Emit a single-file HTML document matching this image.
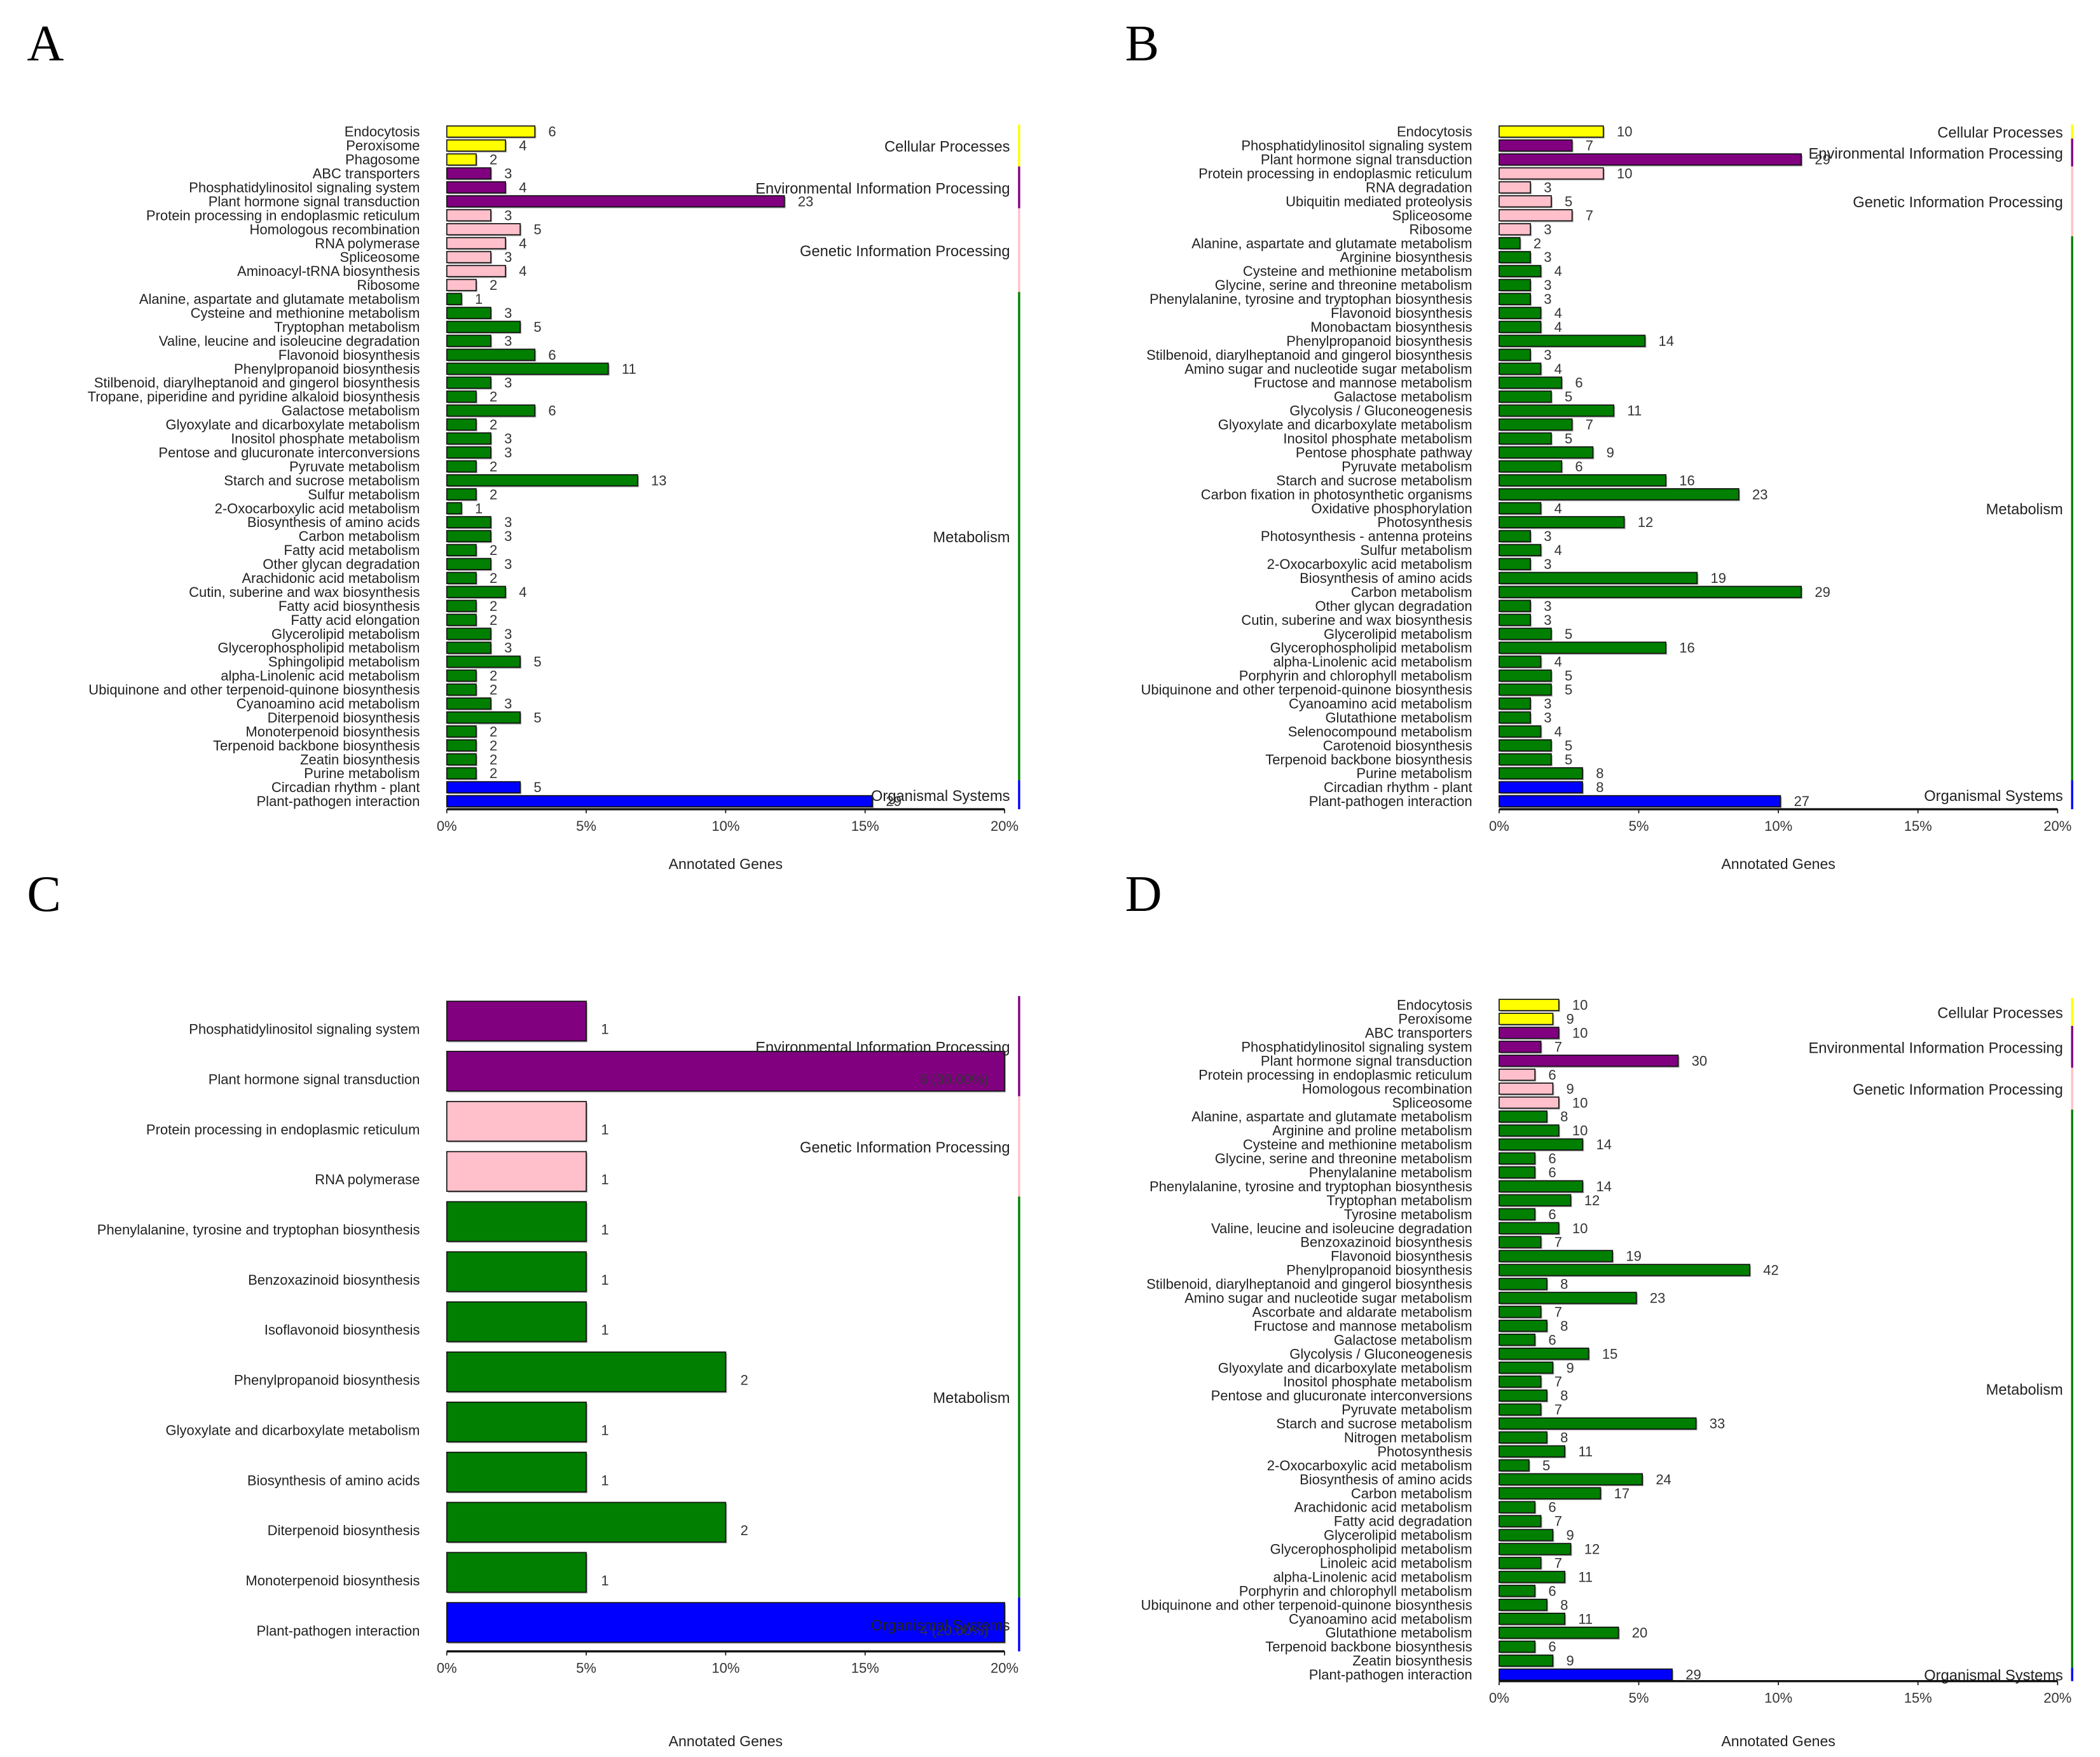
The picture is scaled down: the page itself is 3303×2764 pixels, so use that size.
<!DOCTYPE html>
<html><head><meta charset="utf-8">
<style>
html,body{margin:0;padding:0;background:#fff;}
svg{display:block;}
text{font-family:"Liberation Sans",sans-serif;}
</style></head>
<body>
<svg id="fig" width="3303" height="2764" viewBox="0 0 1560.5 1306" preserveAspectRatio="none" xmlns="http://www.w3.org/2000/svg">
<rect x="0" y="0" width="1560.5" height="1306" fill="#fff"/>
<text x="20" y="45" font-size="38" style="font-family:'Liberation Serif',serif">A</text>
<text x="836" y="45" font-size="38" style="font-family:'Liberation Serif',serif">B</text>
<text x="20" y="677" font-size="38" style="font-family:'Liberation Serif',serif">C</text>
<text x="836" y="677" font-size="38" style="font-family:'Liberation Serif',serif">D</text>
</svg>
<script>
const groupNames = ['Cellular Processes','Environmental Information Processing','Genetic Information Processing','Metabolism','Organismal Systems'];
const groupColors = ['#ffff00','#800080','#ffc0cb','#007f00','#0000ff'];
const ticks = [0,5,10,15,20];
const tickLabels = ['0%','5%','10%','15%','20%'];

const aCats = ['Endocytosis','Peroxisome','Phagosome','ABC transporters','Phosphatidylinositol signaling system','Plant hormone signal transduction','Protein processing in endoplasmic reticulum','Homologous recombination','RNA polymerase','Spliceosome','Aminoacyl-tRNA biosynthesis','Ribosome','Alanine, aspartate and glutamate metabolism','Cysteine and methionine metabolism','Tryptophan metabolism','Valine, leucine and isoleucine degradation','Flavonoid biosynthesis','Phenylpropanoid biosynthesis','Stilbenoid, diarylheptanoid and gingerol biosynthesis','Tropane, piperidine and pyridine alkaloid biosynthesis','Galactose metabolism','Glyoxylate and dicarboxylate metabolism','Inositol phosphate metabolism','Pentose and glucuronate interconversions','Pyruvate metabolism','Starch and sucrose metabolism','Sulfur metabolism','2-Oxocarboxylic acid metabolism','Biosynthesis of amino acids','Carbon metabolism','Fatty acid metabolism','Other glycan degradation','Arachidonic acid metabolism','Cutin, suberine and wax biosynthesis','Fatty acid biosynthesis','Fatty acid elongation','Glycerolipid metabolism','Glycerophospholipid metabolism','Sphingolipid metabolism','alpha-Linolenic acid metabolism','Ubiquinone and other terpenoid-quinone biosynthesis','Cyanoamino acid metabolism','Diterpenoid biosynthesis','Monoterpenoid biosynthesis','Terpenoid backbone biosynthesis','Zeatin biosynthesis','Purine metabolism','Circadian rhythm - plant','Plant-pathogen interaction'];
const aValues = [6,4,2,3,4,23,3,5,4,3,4,2,1,3,5,3,6,11,3,2,6,2,3,3,2,13,2,1,3,3,2,3,2,4,2,2,3,3,5,2,2,3,5,2,2,2,2,5,29];
const aGroupCounts = [3,3,6,35,2];
const aTotal = 190;

const bCats = ['Endocytosis','Phosphatidylinositol signaling system','Plant hormone signal transduction','Protein processing in endoplasmic reticulum','RNA degradation','Ubiquitin mediated proteolysis','Spliceosome','Ribosome','Alanine, aspartate and glutamate metabolism','Arginine biosynthesis','Cysteine and methionine metabolism','Glycine, serine and threonine metabolism','Phenylalanine, tyrosine and tryptophan biosynthesis','Flavonoid biosynthesis','Monobactam biosynthesis','Phenylpropanoid biosynthesis','Stilbenoid, diarylheptanoid and gingerol biosynthesis','Amino sugar and nucleotide sugar metabolism','Fructose and mannose metabolism','Galactose metabolism','Glycolysis / Gluconeogenesis','Glyoxylate and dicarboxylate metabolism','Inositol phosphate metabolism','Pentose phosphate pathway','Pyruvate metabolism','Starch and sucrose metabolism','Carbon fixation in photosynthetic organisms','Oxidative phosphorylation','Photosynthesis','Photosynthesis - antenna proteins','Sulfur metabolism','2-Oxocarboxylic acid metabolism','Biosynthesis of amino acids','Carbon metabolism','Other glycan degradation','Cutin, suberine and wax biosynthesis','Glycerolipid metabolism','Glycerophospholipid metabolism','alpha-Linolenic acid metabolism','Porphyrin and chlorophyll metabolism','Ubiquinone and other terpenoid-quinone biosynthesis','Cyanoamino acid metabolism','Glutathione metabolism','Selenocompound metabolism','Carotenoid biosynthesis','Terpenoid backbone biosynthesis','Purine metabolism','Circadian rhythm - plant','Plant-pathogen interaction'];
const bValues = [10,7,29,10,3,5,7,3,2,3,4,3,3,4,4,14,3,4,6,5,11,7,5,9,6,16,23,4,12,3,4,3,19,29,3,3,5,16,4,5,5,3,3,4,5,5,8,8,27];
const bGroupCounts = [1,2,5,39,2];
const bTotal = 268;

const cCats = ['Phosphatidylinositol signaling system','Plant hormone signal transduction','Protein processing in endoplasmic reticulum','RNA polymerase','Phenylalanine, tyrosine and tryptophan biosynthesis','Benzoxazinoid biosynthesis','Isoflavonoid biosynthesis','Phenylpropanoid biosynthesis','Glyoxylate and dicarboxylate metabolism','Biosynthesis of amino acids','Diterpenoid biosynthesis','Monoterpenoid biosynthesis','Plant-pathogen interaction'];
const cValues = [1,6,1,1,1,1,1,2,1,1,2,1,4];
const cGroupCounts = [0,2,2,8,1];
const cTotal = 20;

const dCats = ['Endocytosis','Peroxisome','ABC transporters','Phosphatidylinositol signaling system','Plant hormone signal transduction','Protein processing in endoplasmic reticulum','Homologous recombination','Spliceosome','Alanine, aspartate and glutamate metabolism','Arginine and proline metabolism','Cysteine and methionine metabolism','Glycine, serine and threonine metabolism','Phenylalanine metabolism','Phenylalanine, tyrosine and tryptophan biosynthesis','Tryptophan metabolism','Tyrosine metabolism','Valine, leucine and isoleucine degradation','Benzoxazinoid biosynthesis','Flavonoid biosynthesis','Phenylpropanoid biosynthesis','Stilbenoid, diarylheptanoid and gingerol biosynthesis','Amino sugar and nucleotide sugar metabolism','Ascorbate and aldarate metabolism','Fructose and mannose metabolism','Galactose metabolism','Glycolysis / Gluconeogenesis','Glyoxylate and dicarboxylate metabolism','Inositol phosphate metabolism','Pentose and glucuronate interconversions','Pyruvate metabolism','Starch and sucrose metabolism','Nitrogen metabolism','Photosynthesis','2-Oxocarboxylic acid metabolism','Biosynthesis of amino acids','Carbon metabolism','Arachidonic acid metabolism','Fatty acid degradation','Glycerolipid metabolism','Glycerophospholipid metabolism','Linoleic acid metabolism','alpha-Linolenic acid metabolism','Porphyrin and chlorophyll metabolism','Ubiquinone and other terpenoid-quinone biosynthesis','Cyanoamino acid metabolism','Glutathione metabolism','Terpenoid backbone biosynthesis','Zeatin biosynthesis','Plant-pathogen interaction'];
const dValues = [10,9,10,7,30,6,9,10,8,10,14,6,6,14,12,6,10,7,19,42,8,23,7,8,6,15,9,7,8,7,33,8,11,5,24,17,6,7,9,12,7,11,6,8,11,20,6,9,29];
const dGroupCounts = [2,3,3,40,1];
const dTotal = 468;

const NS = 'http://www.w3.org/2000/svg';
const svg = document.getElementById('fig');
function mk(tag, attrs, parent){
  const e = document.createElementNS(NS, tag);
  for (const k in attrs) e.setAttribute(k, attrs[k]);
  (parent||svg).appendChild(e);
  return e;
}

function drawPanel(id, cats, values, groupCounts, total, L){
  const g = mk('g', {});
  
  
  const xs = p => L.x0 + (Math.min(p, 20) / 20) * (L.x1 - L.x0);
  const ys = i => L.yFirst + i * L.step;
  const rowGroup = [];
  groupCounts.forEach((c, gi) => { for (let k = 0; k < c; k++) rowGroup.push(gi); });
  cats.forEach((name, i) => {
    const pct = values[i] / total * 100;
    const yc = ys(i);
    const w = xs(pct) - L.x0;
    const sh = mk('rect', {x: L.x0 + 1, y: yc - L.barH/2 + 1, width: w, height: L.barH, fill: '#b0b0b0'}, g);
    
    
    const r = mk('rect', {x: L.x0, y: yc - L.barH/2, width: w, height: L.barH, fill: groupColors[rowGroup[i]], stroke: '#111', 'stroke-width': 0.8}, g);
    
    
    const lab = mk('text', {x: L.x0 - 20, y: yc + L.fs*0.35 + L.labOff, 'text-anchor': 'end', 'font-size': L.fs, fill: '#222'}, g);
    lab.textContent = name;
    
    
    const v = mk('text', {'font-size': L.fs, fill: '#333'}, g);
    if (pct >= 20) {
      v.setAttribute('x', L.x1 - 12);
      v.setAttribute('y', yc + L.fs*0.35 + L.barH*0.2);
      v.setAttribute('text-anchor', 'end');
      v.textContent = values[i] + ' (' + pct.toFixed(2) + '%)';
    } else {
      v.setAttribute('x', xs(pct) + L.vgap);
      v.setAttribute('y', yc + L.fs*0.35 + L.labOff);
      v.textContent = values[i];
    }
    
    
  });
  let start = 0;
  groupCounts.forEach((c, gi) => {
    if (c === 0) return;
    const top = ys(start) - L.step/2;
    let bot = ys(start + c - 1) + L.step/2;
    if (start + c === cats.length) bot = L.axisY;
    const s = mk('rect', {x: L.x1 + 10, y: top, width: 1.6, height: bot - top, fill: groupColors[gi]}, g);
    
    
    const t = mk('text', {x: L.x1 + 4, y: (top + bot)/2 + 4.5, 'text-anchor': 'end', 'font-size': L.gfs, fill: '#222'}, g);
    t.textContent = groupNames[gi];
    
    
    start += c;
  });
  const ax = mk('line', {x1: L.x0, x2: L.x1, y1: L.axisY, y2: L.axisY, stroke: '#111', 'stroke-width': 1.6}, g);
  
  
  ticks.forEach((tv, k) => {
    const tl = mk('line', {x1: xs(tv), x2: xs(tv), y1: L.axisY, y2: L.axisY + 3, stroke: '#111', 'stroke-width': 0.8}, g);
    
    
    const tt = mk('text', {x: xs(tv), y: L.axisY + 16, 'text-anchor': 'middle', 'font-size': L.fs, fill: '#333'}, g);
    tt.textContent = tickLabels[k];
    
    
  });
  const at = mk('text', {x: (L.x0 + L.x1)/2, y: L.titleY, 'text-anchor': 'middle', 'font-size': L.fs + 0.5, fill: '#222'}, g);
  at.textContent = 'Annotated Genes';
  
  
}

drawPanel('a', aCats, aValues, aGroupCounts, aTotal, {x0:332, x1:746.5, yFirst:97.8, step:10.37, barH:8.3, axisY:601.5, titleY:646, fs:10.4, gfs:11.2, vgap:10, labOff:0});
drawPanel('b', bCats, bValues, bGroupCounts, bTotal, {x0:1114, x1:1529, yFirst:97.8, step:10.37, barH:8.3, axisY:601.5, titleY:646, fs:10.4, gfs:11.2, vgap:10, labOff:0});
drawPanel('c', cCats, cValues, cGroupCounts, cTotal, {x0:332, x1:746.5, yFirst:759, step:37.25, barH:29.5, axisY:1227.5, titleY:1298, fs:10.4, gfs:11.2, vgap:11, labOff:6});
drawPanel('d', dCats, dValues, dGroupCounts, dTotal, {x0:1114, x1:1529, yFirst:747, step:10.37, barH:8.3, axisY:1249.6, titleY:1298, fs:10.4, gfs:11.2, vgap:10, labOff:0});
</script>
</body></html>
